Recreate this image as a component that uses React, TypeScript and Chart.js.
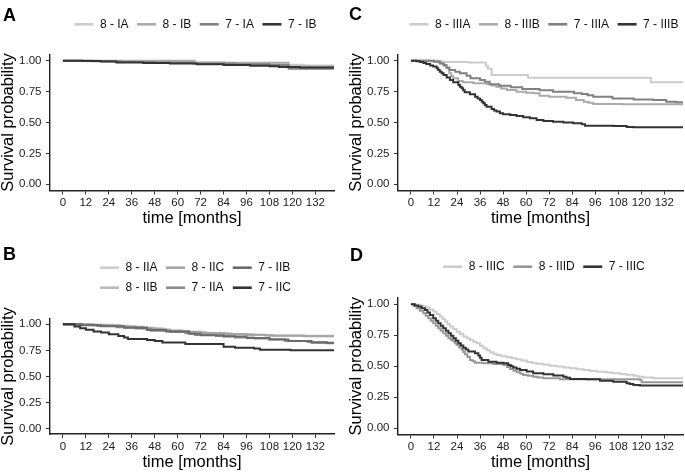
import React, { useEffect, useRef } from "react";
import { Chart, registerables } from "chart.js";

Chart.register(...registerables);

const FONT = "'Liberation Sans', Arial, Helvetica, sans-serif";

// ---------- axes ----------
const X_TICKS = [0, 12, 24, 36, 48, 60, 72, 84, 96, 108, 120, 132];
const Y_TICKS = [0, 0.25, 0.5, 0.75, 1];
const X_RANGE = [-6.75, 141.75];
const Y_RANGE = [-0.05, 1.05];
const X_TITLE = "time [months]";
const Y_TITLE = "Survival probability";

// ---------- palettes (grey scale, light -> dark) ----------
const GREY3 = ["#CCCCCC", "#989898", "#333333"];
const GREY4 = ["#CCCCCC", "#ABABAB", "#818181", "#333333"];
const GREY6 = ["#CCCCCC", "#B9B9B9", "#A4A4A4", "#8B8B8B", "#6A6A6A", "#333333"];

// ---------- Panel A : [month, survival] ----------
const A_LABELS = ["8 - IA", "8 - IB", "7 - IA", "7 - IB"];
const A_8_IA = [[0, 1], [18, 0.996], [40, 0.992], [62, 0.988], [85, 0.982], [104, 0.976], [116, 0.968], [126, 0.962], [145, 0.962]];
const A_8_IB = [[0, 1], [69, 0.984], [118, 0.952], [145, 0.952]];
const A_7_IA = [[0, 1], [15, 0.996], [30, 0.99], [48, 0.986], [68, 0.978], [90, 0.972], [108, 0.966], [118, 0.935], [145, 0.935]];
const A_7_IB = [[0, 1], [10, 0.998], [20, 0.993], [28, 0.986], [42, 0.982], [56, 0.978], [70, 0.972], [84, 0.966], [98, 0.96], [108, 0.954], [113, 0.949], [124, 0.944], [145, 0.944]];

// ---------- Panel B ----------
const B_LABELS = ["8 - IIA", "8 - IIB", "8 - IIC", "7 - IIA", "7 - IIB", "7 - IIC"];
const B_8_IIA = [[0, 1], [14, 0.994], [26, 0.984], [38, 0.968], [48, 0.952], [56, 0.935], [66, 0.922], [76, 0.914], [88, 0.906], [100, 0.898], [108, 0.89], [145, 0.89]];
const B_8_IIB = [[0, 1], [10, 0.995], [22, 0.986], [34, 0.972], [44, 0.955], [54, 0.938], [64, 0.925], [74, 0.915], [86, 0.905], [98, 0.896], [110, 0.888], [145, 0.888]];
const B_8_IIC = [[0, 1], [16, 0.99], [30, 0.975], [42, 0.958], [52, 0.94], [62, 0.928], [72, 0.916], [84, 0.906], [96, 0.9], [106, 0.892], [126, 0.886], [145, 0.886]];
const B_7_IIA = [[0, 1], [8, 0.993], [18, 0.982], [28, 0.972], [38, 0.958], [46, 0.938], [56, 0.925], [64, 0.914], [69, 0.898], [80, 0.888], [90, 0.872], [100, 0.864], [108, 0.856], [116, 0.84], [128, 0.83], [138, 0.818], [145, 0.818]];
const B_7_IIB = [[0, 1], [10, 0.99], [20, 0.98], [32, 0.966], [44, 0.945], [54, 0.93], [66, 0.91], [72, 0.895], [84, 0.882], [96, 0.868], [108, 0.855], [118, 0.84], [130, 0.822], [145, 0.822]];
const B_7_IIC = [[0, 1], [6, 0.978], [9, 0.962], [12, 0.946], [16, 0.93], [20, 0.92], [24, 0.905], [29, 0.888], [32, 0.872], [34, 0.858], [44, 0.85], [48, 0.84], [52, 0.826], [64, 0.81], [84, 0.785], [90, 0.776], [100, 0.768], [103, 0.756], [119, 0.75], [145, 0.75]];

// ---------- Panel C ----------
const C_LABELS = ["8 - IIIA", "8 - IIIB", "7 - IIIA", "7 - IIIB"];
const C_8_IIIA = [[0, 1], [16, 0.99], [30, 0.985], [39, 0.96], [40, 0.935], [42, 0.885], [61, 0.862], [125, 0.825], [145, 0.825]];
const C_8_IIIB = [[0, 1], [10, 0.995], [15, 0.979], [17, 0.958], [18.5, 0.938], [20, 0.898], [21, 0.877], [22, 0.857], [24.5, 0.836], [27, 0.825], [32.5, 0.817], [39.5, 0.809], [42, 0.8], [44.5, 0.79], [47, 0.776], [50, 0.763], [55, 0.749], [60, 0.741], [64, 0.736], [67, 0.717], [72, 0.709], [81, 0.701], [86, 0.682], [90, 0.668], [92.5, 0.659], [95, 0.65], [110, 0.647], [145, 0.647]];
const C_7_IIIA = [[0, 1], [12, 0.992], [15, 0.978], [17, 0.965], [18.5, 0.945], [20, 0.925], [23, 0.911], [25.5, 0.898], [29, 0.879], [31, 0.857], [36, 0.844], [38.5, 0.83], [41, 0.809], [46, 0.798], [52, 0.785], [58, 0.771], [67, 0.76], [74, 0.749], [85, 0.736], [89, 0.73], [92, 0.72], [95, 0.709], [105, 0.695], [116, 0.687], [126, 0.682], [133, 0.668], [138, 0.663], [145, 0.663]];
const C_7_IIIB = [[0, 1], [3, 0.996], [4.7, 0.99], [6.5, 0.982], [8, 0.973], [10, 0.962], [11.6, 0.952], [13.4, 0.938], [14.2, 0.925], [15, 0.911], [16, 0.898], [17, 0.884], [18.6, 0.864], [20.3, 0.844], [22, 0.825], [24.7, 0.803], [25.5, 0.79], [26.4, 0.777], [27.2, 0.76], [28, 0.744], [30.7, 0.728], [33.4, 0.709], [34.7, 0.695], [36, 0.682], [36.9, 0.668], [37.7, 0.655], [38.5, 0.641], [39.4, 0.628], [42, 0.609], [43.3, 0.598], [44.6, 0.588], [46.4, 0.574], [48, 0.566], [51.6, 0.561], [55, 0.553], [58.5, 0.542], [62, 0.534], [65.5, 0.52], [69, 0.512], [74, 0.507], [79.4, 0.501], [84.6, 0.493], [89, 0.485], [90.7, 0.474], [105.4, 0.472], [112.4, 0.464], [116, 0.461], [145, 0.461]];

// ---------- Panel D ----------
const D_LABELS = ["8 - IIIC", "8 - IIID", "7 - IIIC"];
const D_8_IIIC = [[0, 1], [2.5, 0.995], [4.7, 0.989], [6.5, 0.982], [8.2, 0.973], [10, 0.958], [11.6, 0.941], [13.3, 0.921], [15, 0.9], [16.4, 0.88], [17.7, 0.86], [19, 0.84], [20.3, 0.82], [22, 0.8], [23.8, 0.779], [25.5, 0.759], [27.3, 0.739], [29, 0.725], [30.7, 0.712], [32.5, 0.698], [34.2, 0.685], [36, 0.665], [37.7, 0.645], [39.5, 0.629], [41.2, 0.613], [43, 0.601], [44.6, 0.591], [47, 0.58], [50, 0.572], [52.5, 0.564], [55, 0.556], [57.5, 0.546], [60.3, 0.535], [63, 0.527], [65.5, 0.52], [69, 0.512], [72.4, 0.505], [76, 0.497], [79.4, 0.49], [83, 0.483], [86.3, 0.476], [90, 0.469], [93.3, 0.462], [97, 0.456], [102, 0.45], [105, 0.444], [109, 0.438], [112, 0.431], [116, 0.423], [118.5, 0.416], [121, 0.41], [126.3, 0.403], [145, 0.403]];
const D_8_IIID = [[0, 1], [1.5, 0.985], [2.9, 0.968], [4.6, 0.948], [6.4, 0.927], [7.7, 0.907], [9, 0.887], [10.3, 0.867], [11.6, 0.847], [12.9, 0.826], [14.2, 0.806], [15.5, 0.786], [16.8, 0.766], [18.2, 0.746], [19.5, 0.726], [20.8, 0.712], [22.1, 0.699], [23, 0.686], [23.8, 0.672], [25.1, 0.652], [26.4, 0.632], [27.3, 0.614], [28.1, 0.597], [29.4, 0.574], [30.7, 0.551], [32, 0.54], [33.4, 0.529], [37.7, 0.524], [42.9, 0.519], [48.1, 0.511], [50, 0.494], [51.6, 0.478], [53.4, 0.464], [55.1, 0.451], [57, 0.44], [58.5, 0.43], [61, 0.423], [63.7, 0.416], [66, 0.41], [69, 0.403], [77.6, 0.395], [98.5, 0.395], [119.3, 0.39], [120.2, 0.371], [145, 0.371]];
const D_7_IIIC = [[0, 1], [2, 0.99], [3.8, 0.981], [5.5, 0.968], [7.3, 0.954], [8.6, 0.934], [9.9, 0.914], [11.6, 0.887], [13, 0.866], [14.2, 0.847], [15.5, 0.826], [16.8, 0.806], [18.2, 0.786], [19.5, 0.766], [20.8, 0.746], [22.1, 0.726], [23.4, 0.705], [24.7, 0.685], [26, 0.667], [27.3, 0.65], [28.6, 0.634], [29.9, 0.618], [33.4, 0.605], [35.1, 0.586], [36, 0.568], [36.8, 0.551], [40.3, 0.537], [44.6, 0.529], [48.1, 0.524], [50.7, 0.511], [52, 0.5], [53.3, 0.489], [55, 0.479], [56.8, 0.47], [60.3, 0.457], [63.7, 0.443], [69, 0.435], [74.2, 0.425], [79.4, 0.416], [81, 0.407], [82.9, 0.398], [91.5, 0.395], [98.5, 0.384], [105.4, 0.376], [112.4, 0.363], [114, 0.356], [115.9, 0.349], [119.3, 0.344], [145, 0.344]];

// ---------- layout (page pixels) ----------
const Y_W = 50;
const X_H = 38;

type Panel = {
  tag: string;
  labels: string[];
  colors: string[];
  series: number[][][];
  legendRows: number;
  box: { left: number; top: number; w: number; h: number };
  area: { left: number; top: number; right: number; bottom: number };
  tagPos: [number, number];
  legendY: number;
};

const PANELS: Panel[] = [
  {
    tag: "A", labels: A_LABELS, colors: GREY4, series: [A_8_IA, A_8_IB, A_7_IA, A_7_IB], legendRows: 1,
    box: { left: 0, top: 0, w: 342, h: 236 }, area: { left: 50, top: 54.5, right: 334, bottom: 190.5 },
    tagPos: [3, 20.5], legendY: 24.3,
  },
  {
    tag: "C", labels: C_LABELS, colors: GREY4, series: [C_8_IIIA, C_8_IIIB, C_7_IIIA, C_7_IIIB], legendRows: 1,
    box: { left: 342, top: 0, w: 343, h: 236 }, area: { left: 56, top: 54.5, right: 341, bottom: 190.5 },
    tagPos: [7, 20], legendY: 24.3,
  },
  {
    tag: "B", labels: B_LABELS, colors: GREY6, series: [B_8_IIA, B_8_IIB, B_8_IIC, B_7_IIA, B_7_IIB, B_7_IIC], legendRows: 2,
    box: { left: 0, top: 236, w: 342, h: 237 }, area: { left: 50, top: 83, right: 334, bottom: 198 },
    tagPos: [3, 24], legendY: 31.7,
  },
  {
    tag: "D", labels: D_LABELS, colors: GREY3, series: [D_8_IIIC, D_8_IIID, D_7_IIIC], legendRows: 1,
    box: { left: 342, top: 236, w: 343, h: 237 }, area: { left: 56, top: 62, right: 341, bottom: 198.5 },
    tagPos: [8, 25], legendY: 30.7,
  },
];

const overlayPlugin = {
  id: "ggOverlay",
  afterDraw(chart: any, _args: any, opts: any) {
    const ctx = chart.ctx as CanvasRenderingContext2D;
    ctx.save();
    // panel tag
    ctx.fillStyle = "#000";
    ctx.font = `bold 18px ${FONT}`;
    ctx.textAlign = "left";
    ctx.textBaseline = "alphabetic";
    ctx.fillText(opts.tag, opts.tagPos[0], opts.tagPos[1]);

    // legend (ggplot style, column-major)
    const ds = chart.data.datasets;
    const n = ds.length;
    const rows = opts.rows;
    const ncol = Math.ceil(n / rows);
    const KEY = 19, GAP1 = 6.5, GAP2 = 8.5, ROWH = 20;
    ctx.font = `12px ${FONT}`;
    const colW: number[] = [];
    for (let c = 0; c < ncol; c++) {
      let w = 0;
      for (let r = 0; r < rows; r++) {
        const i = c * rows + r;
        if (i < n) w = Math.max(w, ctx.measureText(ds[i].label).width);
      }
      colW.push(w);
    }
    const total = colW.reduce((s, w) => s + KEY + GAP1 + w, 0) + GAP2 * (ncol - 1);
    const ca = chart.chartArea;
    let x = (ca.left + ca.right) / 2 + 3.5 - total / 2;
    for (let c = 0; c < ncol; c++) {
      for (let r = 0; r < rows; r++) {
        const i = c * rows + r;
        if (i >= n) continue;
        const y = opts.legendY + r * ROWH;
        ctx.strokeStyle = ds[i].borderColor;
        ctx.lineWidth = 2.6;
        ctx.lineCap = "butt";
        ctx.beginPath();
        ctx.moveTo(x, y);
        ctx.lineTo(x + KEY, y);
        ctx.stroke();
        ctx.fillStyle = "#111";
        ctx.textBaseline = "middle";
        ctx.fillText(ds[i].label, x + KEY + GAP1, y);
      }
      x += KEY + GAP1 + colW[c] + GAP2;
    }
    ctx.restore();
  },
};

function makeConfig(p: Panel): any {
  const n = p.series.length;
  return {
    type: "line",
    data: {
      datasets: p.series.map((s, i) => ({
        label: p.labels[i],
        data: s.map(([x, y]) => ({ x, y })),
        borderColor: p.colors[i],
        backgroundColor: p.colors[i],
        borderWidth: 2,
        pointRadius: 0,
        stepped: "before",
        fill: false,
        tension: 0,
        order: n - i,
      })),
    },
    options: {
      responsive: false,
      animation: false,
      events: [],
      layout: {
        padding: {
          left: p.area.left - Y_W,
          top: p.area.top,
          right: p.box.w - p.area.right,
          bottom: p.box.h - p.area.bottom - X_H,
        },
      },
      plugins: {
        legend: { display: false },
        tooltip: { enabled: false },
        ggOverlay: { tag: p.tag, tagPos: p.tagPos, legendY: p.legendY, rows: p.legendRows },
      },
      scales: {
        x: {
          type: "linear",
          min: X_RANGE[0],
          max: X_RANGE[1],
          afterBuildTicks: (s: any) => { s.ticks = X_TICKS.map((v) => ({ value: v })); },
          afterFit: (s: any) => { s.height = X_H; },
          ticks: {
            autoSkip: false, maxRotation: 0, padding: 1.5, color: "#222",
            font: { size: 11.5, family: FONT },
            callback: (v: number) => String(v),
          },
          grid: { display: true, drawOnChartArea: false, drawTicks: true, tickLength: 4, color: "#333", lineWidth: 1 },
          border: { display: true, color: "#222", width: 1.4 },
          title: { display: true, text: X_TITLE, color: "#000", font: { size: 16.5, family: FONT }, padding: { top: 0, bottom: 0 } },
        },
        y: {
          type: "linear",
          min: Y_RANGE[0],
          max: Y_RANGE[1],
          afterBuildTicks: (s: any) => { s.ticks = Y_TICKS.map((v) => ({ value: v })); },
          afterFit: (s: any) => { s.width = Y_W; },
          ticks: {
            autoSkip: false, padding: 4.5, color: "#222",
            font: { size: 11.5, family: FONT },
            callback: (v: number) => v.toFixed(2),
          },
          grid: { display: true, drawOnChartArea: false, drawTicks: true, tickLength: 4, color: "#333", lineWidth: 1 },
          border: { display: true, color: "#222", width: 1.4 },
          title: { display: true, text: Y_TITLE, color: "#000", font: { size: 16.5, family: FONT, lineHeight: 1 }, padding: { top: 0, bottom: 0 } },
        },
      },
    },
    plugins: [overlayPlugin],
  };
}

function PanelChart({ p }: { p: Panel }) {
  const ref = useRef<HTMLCanvasElement | null>(null);
  useEffect(() => {
    if (!ref.current) return;
    const chart = new Chart(ref.current, makeConfig(p));
    return () => chart.destroy();
  }, [p]);
  return (
    <canvas
      ref={ref}
      width={p.box.w}
      height={p.box.h}
      style={{ position: "absolute", left: p.box.left, top: p.box.top, width: p.box.w, height: p.box.h }}
    />
  );
}

export default function App() {
  Chart.defaults.font.family = FONT;
  return (
    <div style={{ position: "fixed", left: 0, top: 0, width: 685, height: 473, background: "#fff", overflow: "hidden" }}>
      {PANELS.map((p) => (
        <PanelChart key={p.tag} p={p} />
      ))}
    </div>
  );
}
